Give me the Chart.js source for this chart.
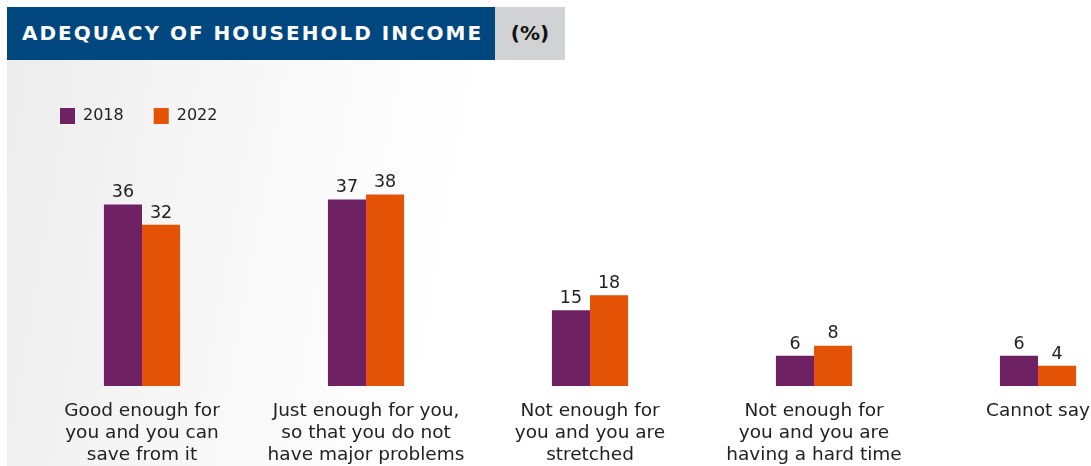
<!DOCTYPE html>
<html>
<head>
<meta charset="utf-8">
<script src="https://cdn.jsdelivr.net/npm/chart.js@4"></script>
<style>
  html, body { margin: 0; padding: 0; background: #fff; overflow: hidden; }
  body { width: 1091px; height: 466px; position: relative; font-family: "DejaVu Sans", sans-serif; }
  .bg { position: absolute; left: 7px; top: 60px; width: 1084px; height: 406px;
        background: linear-gradient(100deg, #ececec 0%, #f6f6f6 18%, #ffffff 42%); }
  .title { position: absolute; left: 7px; top: 7px; height: 53px; width: 488px; background: #00467f;
           color: #fff; font-weight: 700; font-size: 20px; line-height: 53px; padding-left: 15px; box-sizing: border-box; letter-spacing: 2px; white-space: nowrap; }
  .unit { position: absolute; left: 495px; top: 7px; height: 53px; width: 70px; background: #d1d2d3;
          color: #111; font-weight: 700; font-size: 20px; line-height: 53px; text-align: center; }
  .wrap { position: absolute; left: 0; top: 62px; width: 1150px; height: 418px; }
</style>
</head>
<body>
<div class="bg"></div>
<div class="title">ADEQUACY OF HOUSEHOLD INCOME</div>
<div class="unit">(%)</div>
<div class="wrap"><canvas id="chart"></canvas></div>
<script>
"use strict";

const categories = [
    ["Good enough for", "you and you can", "save from it"],
    ["Just enough for you,", "so that you do not", "have major problems"],
    ["Not enough for", "you and you are", "stretched"],
    ["Not enough for", "you and you are", "having a hard time"],
    ["Cannot say"]
];
const values2018 = [36, 37, 15, 6, 6];
const values2022 = [32, 38, 18, 8, 4];
const seriesNames = ["2018", "2022"];

const purple = "#6e2263";
const orange = "#e35205";
const fontName = "DejaVu Sans";

// draws the numbers above each bar
const valueLabels = {
    id: "valueLabels",
    afterDatasetsDraw(chart) {
        const ctx = chart.ctx;
        ctx.save();
        ctx.font = "17.5px '" + fontName + "'";
        ctx.fillStyle = "#222";
        ctx.textAlign = "center";
        ctx.textBaseline = "bottom";
        chart.data.datasets.forEach((ds, i) => {
            chart.getDatasetMeta(i).data.forEach((bar, j) => {
                ctx.fillText(ds.data[j], bar.x, bar.y - 3);
            });
        });
        ctx.restore();
    }
};

const ctx = document.getElementById('chart');
new Chart(ctx, {
    type: 'bar',
    data: {
        labels: categories,
        datasets: [
            { label: seriesNames[0], data: values2018, backgroundColor: purple },
            { label: seriesNames[1], data: values2022, backgroundColor: orange }
        ]
    },
    options: {
        responsive: true,
        maintainAspectRatio: false,
        animation: false,
        categoryPercentage: 0.34,
        barPercentage: 1.0,
        layout: { padding: { left: 30, right: 0, top: 16, bottom: 0 } },
        plugins: {
            legend: {
                position: 'top',
                align: 'start',
                labels: {
                    boxWidth: 15,
                    boxHeight: 16,
                    padding: 30,
                    color: "#222",
                    font: { family: fontName, size: 16 }
                }
            },
            tooltip: { enabled: false }
        },
        scales: {
            x: {
                grid: { display: false, drawTicks: false },
                border: { display: false },
                ticks: {
                    color: "#222",
                    padding: 14,
                    maxRotation: 0,
                    autoSkip: false,
                    font: { family: fontName, size: 18.5, lineHeight: 1.19 }
                }
            },
            y: {
                display: false,
                min: 0,
                max: 50
            }
        }
    },
    plugins: [valueLabels]
});
</script>
</body>
</html>
